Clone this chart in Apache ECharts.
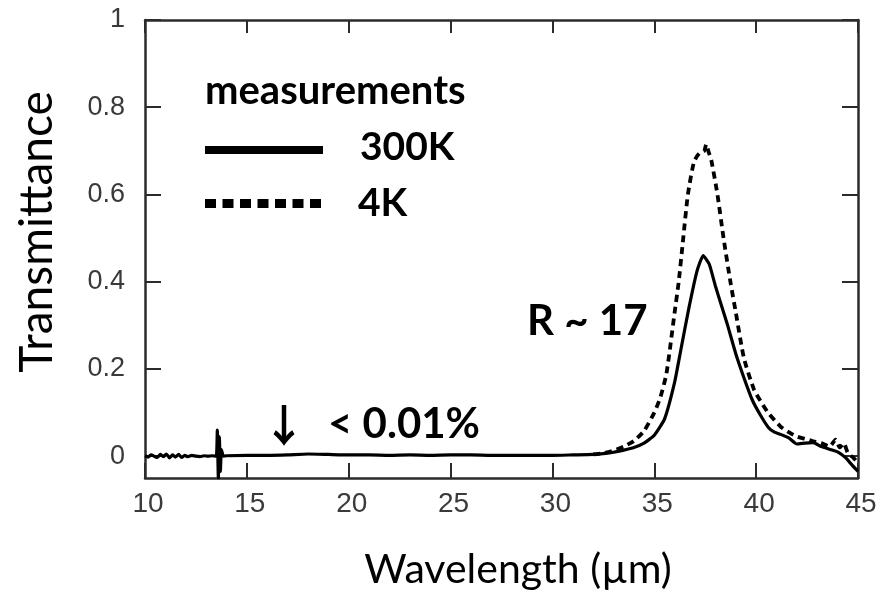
<!DOCTYPE html>
<html>
<head>
<meta charset="utf-8">
<script src="https://cdn.jsdelivr.net/npm/echarts@6/dist/echarts.min.js"></script>
<style>
  html, body { margin: 0; padding: 0; background: #fff; }
  #chart { width: 894px; height: 599px; }
</style>
</head>
<body>
<div id="chart"></div>
<script>
// ---- data ----
const xTicks = [10, 15, 20, 25, 30, 35, 40, 45];
const yTicks = [0, 0.2, 0.4, 0.6, 0.8, 1];

// 300 K measurement (solid)
const wl300 = [10, 10.15, 10.3, 10.45, 10.6, 10.75, 10.9, 11.05, 11.2, 11.35, 11.5, 11.65, 11.8, 11.95, 12.1, 12.3, 12.5, 12.7, 12.9, 13.1, 13.3,
  13.5, 13.55, 13.6, 13.65, 13.7, 13.75, 13.85,
  14, 15, 16, 17, 18, 19, 20, 21, 22, 23, 24, 25, 26, 27, 28, 29, 30, 31, 32, 32.5, 33, 33.5, 34, 34.5, 35, 35.5, 36, 36.3,
  36.7, 37.1, 37.4, 37.7, 38, 38.3, 38.6, 39, 39.4, 39.8, 40.2, 40.6, 40.9, 41.2, 41.6, 42, 42.4, 42.8, 43.2, 43.6, 44, 44.4, 44.7, 45];
const t300 = [0.001, -0.002, 0.003, 0.0, -0.003, 0.004, -0.001, 0.005, -0.004, 0.003, -0.002, 0.004, -0.003, 0.002, -0.001, 0.002, 0.0, -0.001, 0.001, 0.0, 0.001,
  0.0, 0.06, -0.05, 0.045, -0.035, 0.015, 0.0,
  0.001, 0.002, 0.002, 0.003, 0.005, 0.004, 0.003, 0.003, 0.002, 0.003, 0.002, 0.003, 0.003, 0.002, 0.002, 0.002, 0.002, 0.003, 0.004, 0.006, 0.009, 0.014, 0.02, 0.03, 0.048, 0.085, 0.17, 0.243,
  0.34, 0.425, 0.46, 0.44, 0.39, 0.345, 0.3, 0.235, 0.18, 0.13, 0.095, 0.066, 0.055, 0.05, 0.042, 0.028, 0.03, 0.031, 0.022, 0.016, 0.01, -0.004, -0.02, -0.035];

// 4 K measurement (dotted)
const wl4 = [32, 32.5, 33, 33.5, 34, 34.5, 35, 35.3, 35.6, 36, 36.2, 36.4, 36.65, 36.95, 37.2, 37.45, 37.55, 37.65, 37.8, 38.1, 38.4, 38.75,
  39, 39.4, 39.9, 40.3, 40.6, 41.2, 41.6, 42, 42.4, 42.8, 43.2, 43.6, 43.9, 44.1, 44.3, 44.5, 44.8, 45];
const t4 = [0.004, 0.007, 0.013, 0.022, 0.035, 0.058, 0.1, 0.135, 0.19, 0.33, 0.4, 0.49, 0.6, 0.675, 0.694, 0.7, 0.715, 0.7, 0.678, 0.6, 0.5, 0.396,
  0.33, 0.225, 0.152, 0.12, 0.099, 0.068, 0.055, 0.045, 0.04, 0.034, 0.03, 0.022, 0.038, 0.02, 0.03, 0.008, -0.005, -0.015];

const seriesNames = ['300K', '4K'];
const legendTitle = 'measurements';
const xName = 'Wavelength (\u00B5m)';
const yName = 'Transmittance';
const noteR = 'R ~ 17';
const noteArrow = '\u2193';
const noteLevel = '< 0.01%';

// ---- build chart ----
const pair = (xs, ys) => xs.map((x, i) => [x, ys[i]]);
const AX = '#2b2b2b';
const boldFont = '"Lato", "Open Sans", sans-serif';

const chart = echarts.init(document.getElementById('chart'), null, { renderer: 'canvas' });
chart.setOption({
  animation: false,
  backgroundColor: '#ffffff',
  grid: { left: 145, right: 36, top: 20, bottom: 121, containLabel: false },
  xAxis: [
    {
      type: 'value', min: 10, max: 45, interval: 5, position: 'bottom',
      axisLine: { show: true, onZero: false, lineStyle: { color: AX, width: 2.5 } },
      axisTick: { show: true, inside: true, length: 15, lineStyle: { color: AX, width: 2 } },
      axisLabel: { margin: 12, padding: [0, 0, 0, 6], customValues: xTicks, formatter: v => String(v),
        fontFamily: '"Liberation Sans", Arial, sans-serif', fontSize: 28, color: '#3a3a3a' },
      splitLine: { show: false }
    },
    {
      type: 'value', min: 10, max: 45, interval: 5, position: 'top',
      axisLine: { show: true, onZero: false, lineStyle: { color: AX, width: 2.5 } },
      axisTick: { show: true, inside: true, length: 13, lineStyle: { color: AX, width: 2 } },
      axisLabel: { show: false },
      splitLine: { show: false }
    }
  ],
  yAxis: [
    {
      type: 'value', min: -0.05, max: 1, position: 'left',
      axisLine: { show: true, onZero: false, lineStyle: { color: AX, width: 2.5 } },
      axisTick: { show: true, inside: true, length: 16, customValues: yTicks, lineStyle: { color: AX, width: 2 } },
      axisLabel: { margin: 20, customValues: yTicks, formatter: v => String(Math.round(v * 10) / 10),
        fontFamily: '"Liberation Sans", Arial, sans-serif', fontSize: 27, color: '#3a3a3a' },
      splitLine: { show: false }
    },
    {
      type: 'value', min: -0.05, max: 1, position: 'right',
      axisLine: { show: true, onZero: false, lineStyle: { color: AX, width: 2.5 } },
      axisTick: { show: true, inside: true, length: 16, customValues: yTicks, lineStyle: { color: AX, width: 2 } },
      axisLabel: { show: false },
      splitLine: { show: false }
    }
  ],
  series: [
    {
      name: seriesNames[0], type: 'line', xAxisIndex: 0, yAxisIndex: 0,
      data: pair(wl300, t300), showSymbol: false, smooth: 0.15, clip: true,
      lineStyle: { color: '#000', width: 3.2 }, z: 3
    },
    {
      name: seriesNames[1], type: 'line', xAxisIndex: 0, yAxisIndex: 0,
      data: pair(wl4, t4), showSymbol: false, smooth: 0.2, clip: true,
      lineStyle: { color: '#000', width: 3.8, type: [7, 5] }, z: 2
    }
  ],
  graphic: [
    // legend
    { type: 'text', left: 205, top: 71, style: { text: legendTitle, font: 'bold 40px ' + boldFont, fill: '#000' } },
    { type: 'line', shape: { x1: 205, y1: 150, x2: 323, y2: 150 }, style: { stroke: '#000', lineWidth: 8 } },
    { type: 'text', left: 360, top: 128, style: { text: seriesNames[0], font: 'bold 39px ' + boldFont, fill: '#000' } },
    { type: 'line', shape: { x1: 205, y1: 203.5, x2: 323, y2: 203.5 }, style: { stroke: '#000', lineWidth: 9, lineDash: [11, 6.5] } },
    { type: 'text', left: 358, top: 184, style: { text: seriesNames[1], font: 'bold 39px ' + boldFont, fill: '#000' } },
    // annotations
    { type: 'text', left: 262, top: 403, style: { text: noteArrow, font: 'bold 44px "Noto Sans CJK SC", "DejaVu Sans", sans-serif', fill: '#000' } },
    { type: 'text', left: 527, top: 300, style: { text: noteR, font: 'bold 42px ' + boldFont, fill: '#000' } },
    { type: 'text', left: 328, top: 403, style: { text: noteLevel, font: 'bold 42px ' + boldFont, fill: '#000' } },
    // axis titles
    { type: 'text', x: 37, y: 232, rotation: Math.PI / 2,
      style: { text: yName, font: '46px ' + boldFont, fill: '#000', align: 'center', verticalAlign: 'middle' } },
    { type: 'text', x: 518, y: 570,
      style: { text: xName, font: '41px ' + boldFont, fill: '#000', align: 'center', verticalAlign: 'middle' } }
  ]
});
</script>
</body>
</html>
